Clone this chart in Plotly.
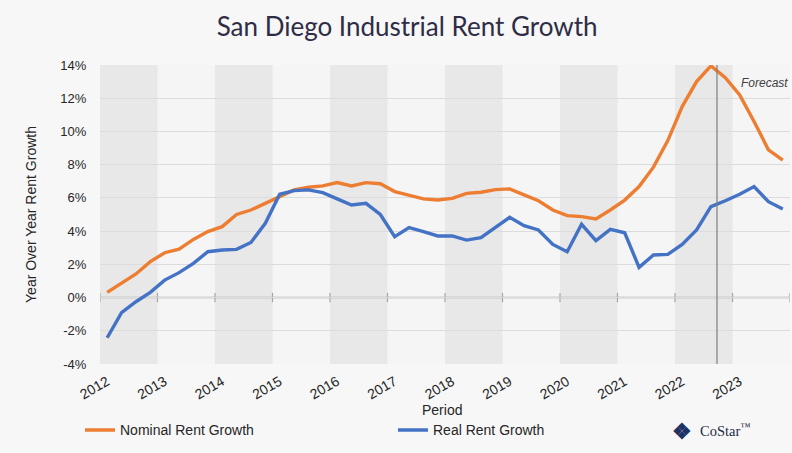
import plotly.graph_objects as go

# ---- data (quarterly, 2012 Q1 .. 2023 Q4) ----
years = list(range(2012, 2024))
quarters = [f"{y} Q{q}" for y in years for q in range(1, 5)]

nominal_rent_growth = [
    0.31, 0.89, 1.42, 2.16, 2.70, 2.92, 3.50, 3.97, 4.27, 5.00,
    5.27, 5.67, 6.07, 6.48, 6.64, 6.72, 6.92, 6.72, 6.92, 6.85,
    6.38, 6.18, 5.94, 5.87, 5.97, 6.27, 6.34, 6.50, 6.54, 6.18,
    5.83, 5.27, 4.93, 4.87, 4.73, 5.27, 5.87, 6.68, 7.85, 9.45,
    11.5, 13.0, 13.95, 13.24, 12.2, 10.6, 8.89, 8.28,
]
real_rent_growth = [
    -2.42, -0.91, -0.25, 0.31, 1.05, 1.50, 2.06, 2.76, 2.86, 2.90,
    3.32, 4.47, 6.22, 6.44, 6.48, 6.32, 5.94, 5.57, 5.67, 5.00,
    3.66, 4.21, 3.97, 3.71, 3.71, 3.46, 3.61, 4.21, 4.83, 4.33,
    4.07, 3.20, 2.76, 4.41, 3.43, 4.10, 3.90, 1.82, 2.56, 2.60,
    3.20, 4.07, 5.47, 5.83, 6.22, 6.68, 5.77, 5.33,
]
y_ticks = [-4, -2, 0, 2, 4, 6, 8, 10, 12, 14]
y_tick_labels = [f"{v}%" for v in y_ticks]
forecast_start = 2022.73  # forecast marker (late 2022 Q3)

# x position of each quarter: centre of the quarter in decimal years
def qpos(label):
    y, q = label.split(" Q")
    return int(y) + (int(q) - 0.5) / 4

xq = [qpos(q) for q in quarters]

ORANGE = "#ED7D31"
BLUE = "#4472C4"
FONT = "Liberation Sans, Arial, sans-serif"

fig = go.Figure()
fig.add_trace(go.Scatter(x=xq, y=nominal_rent_growth, mode="lines",
                         name="Nominal Rent Growth",
                         line=dict(color=ORANGE, width=3.4)))
fig.add_trace(go.Scatter(x=xq, y=real_rent_growth, mode="lines",
                         name="Real Rent Growth",
                         line=dict(color=BLUE, width=3.4)))

shapes = []
# alternating year bands
for i, yr in enumerate(years):
    if i % 2 == 0:
        shapes.append(dict(type="rect", xref="x", yref="paper", x0=yr, x1=yr + 1,
                           y0=0, y1=1, fillcolor="#e8e8e8", line_width=0,
                           layer="below"))
# zero line with year tick marks
shapes.append(dict(type="line", xref="paper", yref="y", x0=0, x1=1, y0=0, y1=0,
                   line=dict(color="#a6a6a6", width=1.5), layer="below"))
for yr in years + [years[-1] + 1]:
    shapes.append(dict(type="line", xref="x", yref="y", x0=yr, x1=yr,
                       y0=-0.28, y1=0.28, line=dict(color="#a6a6a6", width=1.2),
                       layer="below"))
# forecast divider
shapes.append(dict(type="line", xref="x", yref="paper", x0=forecast_start,
                   x1=forecast_start, y0=0, y1=1,
                   line=dict(color="#7f7f7f", width=1.2)))

annotations = [
    dict(text="<i>Forecast</i>", xref="paper", yref="paper", x=1.0, y=0.94,
         xanchor="right", yanchor="middle", showarrow=False,
         font=dict(family=FONT, size=12, color="#404040")),
    dict(text="Period", xref="paper", yref="paper", x=0.496, y=-0.155,
         xanchor="center", yanchor="middle", showarrow=False,
         font=dict(family=FONT, size=14, color="#262626")),
    dict(text="<b>❖</b>", xref="paper", yref="paper", x=0.843, y=-0.222,
         xanchor="center", yanchor="middle", showarrow=False,
         font=dict(size=22, color="#1f3266")),
    dict(text="CoStar<sup>™</sup>", xref="paper", yref="paper", x=0.866, y=-0.222,
         xanchor="left", yanchor="middle", showarrow=False,
         font=dict(family="Liberation Serif, Times New Roman", size=14.5,
                   color="#1f2a44")),
]

fig.update_layout(
    width=792, height=453,
    margin=dict(l=100, r=2, t=65, b=89),
    paper_bgcolor="#f7f7f7",
    plot_bgcolor="#f5f5f5",
    title=dict(text="San Diego Industrial Rent Growth", x=0.514, xanchor="center",
               y=0.94, yanchor="middle",
               font=dict(family="Lato, Noto Sans", size=26, color="#2e2d45")),
    shapes=shapes,
    annotations=annotations,
    showlegend=True,
    legend=dict(orientation="h", x=-0.029, xanchor="left", y=-0.222,
                yanchor="middle", bgcolor="rgba(0,0,0,0)",
                font=dict(family=FONT, size=14, color="#262626"),
                entrywidth=268, entrywidthmode="pixels", itemwidth=30,
                tracegroupgap=0),
    xaxis=dict(range=[2012, 2024], tickmode="array",
               tickvals=[y + 0.12 for y in years],
               ticktext=[str(y) for y in years],
               tickangle=-30, showgrid=False, zeroline=False, showline=False,
               ticks="", ticklabelstandoff=6,
               tickfont=dict(family=FONT, size=14, color="#262626")),
    yaxis=dict(range=[-4, 14], tickmode="array", tickvals=y_ticks,
               ticktext=y_tick_labels, showgrid=True, gridcolor="#dcdcdc",
               gridwidth=1, zeroline=False, showline=False,
               ticks="outside", ticklen=10, tickcolor="rgba(0,0,0,0)",
               tickfont=dict(family=FONT, size=13, color="#262626"),
               title=dict(text="Year Over Year Rent Growth", standoff=20,
                          font=dict(family=FONT, size=14, color="#262626"))),
)

fig.write_html(
    "out.html",
    config={"displayModeBar": False},
    post_script="document.body.style.margin='0';"
                "document.body.style.background='#f7f7f7';",
)
